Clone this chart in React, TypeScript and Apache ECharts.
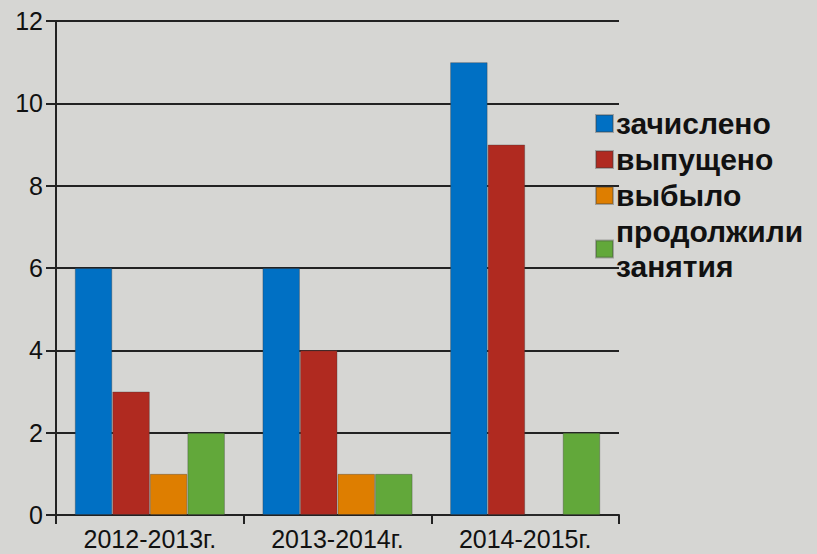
import React, { useEffect, useRef } from "react";
import * as echarts from "echarts";

const categories = ["2012-2013г.", "2013-2014г.", "2014-2015г."];
const enrolled = [6, 6, 11];
const graduated = [3, 4, 9];
const droppedOut = [1, 1, 0];
const continued = [2, 1, 2];
const seriesNames = ["зачислено", "выпущено", "выбыло", "продолжили\nзанятия"];
const colors = ["#0070C4", "#B02A20", "#DE7E00", "#62A83A"];

export default function App() {
  const ref = useRef<HTMLDivElement>(null);
  useEffect(() => {
    document.body.style.margin = "0";
    const chart = echarts.init(ref.current!, undefined, { renderer: "svg" });
    const data = [enrolled, graduated, droppedOut, continued];
    chart.setOption({
      animation: false,
      backgroundColor: "#d6d6d3",
      textStyle: { fontFamily: "Liberation Sans, Arial, sans-serif" },
      grid: { left: 56, right: 198, top: 21, bottom: 39, containLabel: false },
      legend: {
        orient: "vertical",
        left: 590,
        top: 101,
        itemWidth: 17,
        itemHeight: 17,
        itemGap: 1,
        icon: "rect",
        textStyle: { fontSize: 30, fontWeight: "bold", color: "#111", padding: [0, 0, 0, -2], lineHeight: 35 },
        data: seriesNames,
      },
      xAxis: {
        type: "category",
        data: categories,
        axisLine: { lineStyle: { color: "#222", width: 2 } },
        axisTick: { show: true, length: 9, lineStyle: { color: "#222", width: 2 } },
        axisLabel: { fontSize: 25, color: "#111", margin: 11 },
      },
      yAxis: {
        type: "value",
        min: 0,
        max: 12,
        interval: 2,
        axisLine: { show: true, lineStyle: { color: "#222", width: 2 } },
        axisTick: { show: true, length: 10, lineStyle: { color: "#222", width: 2 } },
        splitLine: { lineStyle: { color: "#222", width: 2 } },
        axisLabel: { fontSize: 25, color: "#111", margin: 13 },
      },
      series: data.map((d, i) => ({
        name: seriesNames[i],
        type: "bar",
        data: d,
        barGap: "0%",
        barCategoryGap: "20%",
        itemStyle: { color: colors[i], borderColor: "rgba(60,60,60,0.35)", borderWidth: 1 },
      })),
    });
    return () => chart.dispose();
  }, []);
  return <div ref={ref} style={{ width: 817, height: 554 }} />;
}
